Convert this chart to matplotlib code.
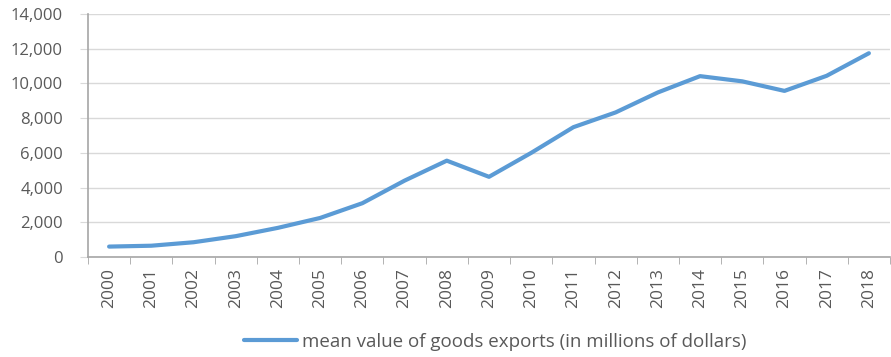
import numpy as np
import matplotlib.pyplot as plt
from matplotlib.ticker import FuncFormatter

plt.rcParams['font.family'] = ['Open Sans', 'DejaVu Sans']

years = [str(y) for y in range(2000, 2019)]
exports = [600, 650, 850, 1200, 1680, 2250, 3100, 4400, 5550, 4620,
           6000, 7480, 8330, 9480, 10420, 10120, 9570, 10440, 11740]
label = 'mean value of goods exports (in millions of dollars)'

txt = '#595959'
axc = '#A6A6A6'

fig = plt.figure(figsize=(8.91, 3.57), dpi=100)
ax = fig.add_axes([88 / 891, 1 - 257 / 357, 802 / 891, 243 / 357])

x = np.arange(len(years))
ax.plot(x, exports, color='#5B9BD5', lw=3, solid_capstyle='round',
        solid_joinstyle='round', label=label)

ax.set_xlim(-0.5, len(years) - 0.5)
ax.set_ylim(0, 14000)
ax.set_yticks(np.arange(0, 14001, 2000))
ax.yaxis.set_major_formatter(FuncFormatter(lambda v, p: '{:,.0f}'.format(v)))
ax.set_xticks(x)
ax.set_xticklabels(years, rotation=90)
ax.set_xticks(np.arange(-0.5, len(years)), minor=True)

ax.grid(axis='y', color='#D9D9D9', lw=1)
ax.set_axisbelow(True)
for s in ['top', 'right']:
    ax.spines[s].set_visible(False)
for s in ['left', 'bottom']:
    ax.spines[s].set_color(axc)
    ax.spines[s].set_linewidth(1.2)

ax.tick_params(axis='y', length=6, color='#D9D9D9', labelsize=12, labelcolor=txt, pad=12)
ax.tick_params(axis='x', which='major', length=0, labelsize=12.5, labelcolor=txt, pad=8)
ax.tick_params(axis='x', which='minor', length=5, color=axc)

ax.legend(loc='center', bbox_to_anchor=(0.556, 1 - 342 / 357), bbox_transform=fig.transFigure,
          frameon=False, fontsize=13.5, labelcolor=txt, handlelength=2.8, handletextpad=0.3)

fig.savefig('out.png', dpi=100)
